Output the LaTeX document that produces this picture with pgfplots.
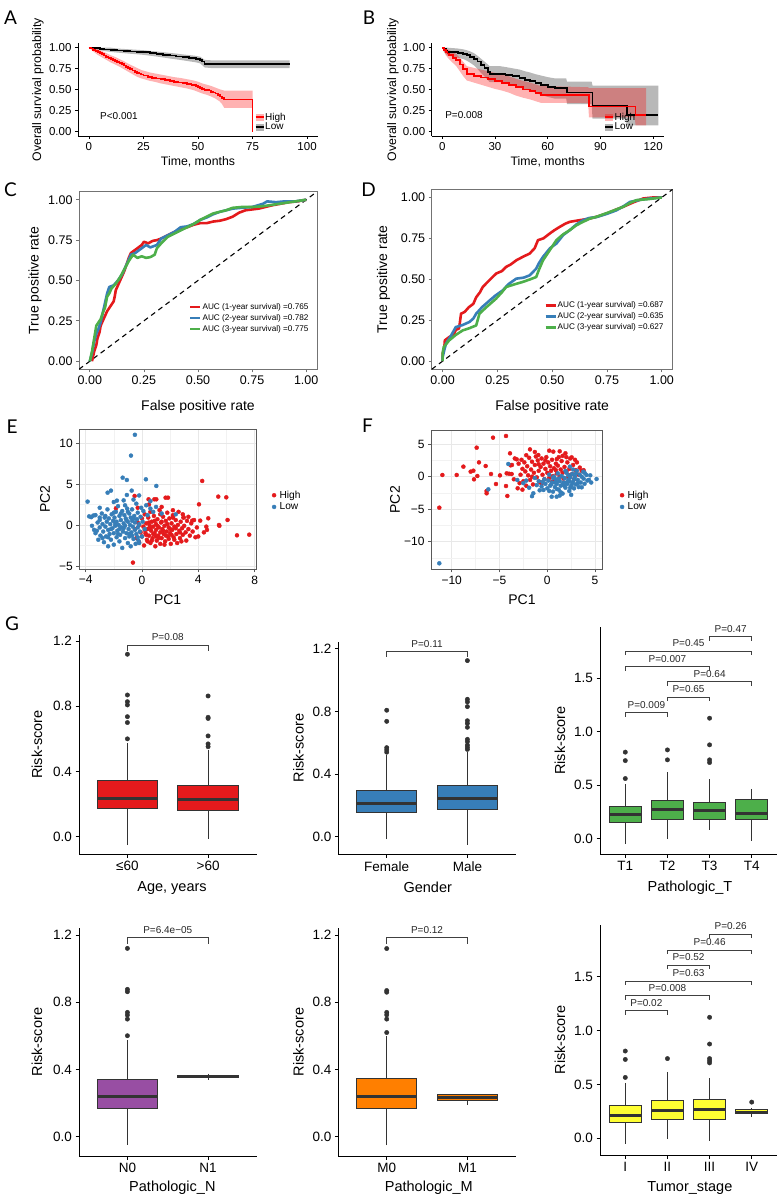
\documentclass[border=0pt]{standalone}
\usepackage{fontspec}
\setmainfont{Liberation Sans}
\newfontfamily\letterfont{Lato}
\usepackage{pgfplots}
\pgfplotsset{compat=1.18}
\usepgfplotslibrary{statistics}
\definecolor{sred}{HTML}{E41A1C}
\definecolor{sblue}{HTML}{377EB8}
\definecolor{sgreen}{HTML}{4DAF4A}
\definecolor{spurple}{HTML}{984EA3}
\definecolor{sorange}{HTML}{FF7F00}
\definecolor{syellow}{HTML}{FFFF33}
\definecolor{bgray}{HTML}{333333}
\newcommand{\fs}[1]{\fontsize{#1}{#1}\selectfont}
\newcommand{\brk}[6]{%
 \draw[black!75, line width=0.6pt] (axis cs:#1,#4) -- (axis cs:#1,#3) -- (axis cs:#2,#3) -- (axis cs:#2,#4);
 \node[font=\fs{10}, black!85, anchor=base, yshift=4.5pt, inner sep=0pt] at (axis cs:#5,#3) {#6};}
\pgfplotsset{
 kmax/.style={scale only axis, axis lines=left, axis line style={-, black, line width=0.8pt},
   tick align=outside, major tick length=3pt, tick style={black, line width=0.8pt},
   tick label style={font=\fs{11.5}}, label style={font=\fs{12.3}},
   ymin=-0.05, ymax=1.05, ytick={0,0.25,0.5,0.75,1}, yticklabels={0.00,0.25,0.50,0.75,1.00},
   height=92.5pt,
   legend style={draw=none, fill=none, font=\fs{10}, row sep=0pt, inner sep=0pt, nodes={inner sep=0.6pt}, anchor=west},
   legend cell align=left},
 rocax/.style={scale only axis, xmin=-0.05, xmax=1.05, ymin=-0.05, ymax=1.05,
   axis line style={black!55, line width=0.8pt}, tick align=outside, major tick length=3pt,
   tick style={black!55, line width=0.8pt}, tick pos=left,
   xtick={0,0.25,0.5,0.75,1}, xticklabels={0.00,0.25,0.50,0.75,1.00},
   ytick={0,0.25,0.5,0.75,1}, yticklabels={0.00,0.25,0.50,0.75,1.00},
   tick label style={font=\fs{12.5}}, label style={font=\fs{14}},
   xlabel={False positive rate}, ylabel={True positive rate},
   legend style={draw=none, fill=none, font=\fs{8.2}, row sep=2pt, inner sep=0pt, nodes={inner sep=0.8pt}, anchor=west},
   legend cell align=left,
   legend image code/.code={\draw[#1] (0pt,0pt) -- (10pt,0pt);}},
 pcax/.style={scale only axis, axis line style={black!65, line width=0.8pt}, tick align=outside,
   major tick length=3pt, minor tick length=0pt, tick style={black!65, line width=0.8pt}, tick pos=left,
   grid=both, major grid style={black!9, line width=0.7pt}, minor grid style={black!5, line width=0.4pt},
   tick label style={font=\fs{12}}, label style={font=\fs{14}}, xlabel={PC1}, ylabel={PC2},
   legend style={draw=none, fill=none, font=\fs{10.2}, row sep=1pt, inner sep=0pt, nodes={inner sep=1pt}, anchor=west},
   legend cell align=left},
 bx/.style={scale only axis, axis lines=left, axis line style={-, black, line width=0.9pt},
   tick align=outside, major tick length=3.5pt, tick style={black, line width=0.9pt},
   tick label style={font=\fs{13.5}}, label style={font=\fs{14.5}}, clip=false,
   xmin=0.4, ylabel={Risk-score},
   boxplot/draw direction=y,
   boxplot/box extend=0.75, boxplot/whisker extend=0,
   boxplot/every median/.style={line width=3pt, draw=bgray}},
 bx2/.style={bx, xmax=2.6, xtick={1,2}, ytick={0,0.4,0.8,1.2}, yticklabels={0.0,0.4,0.8,1.2}, width=177.5pt},
 bx4/.style={bx, xmax=4.6, xtick={1,2,3,4}, ytick={0,0.5,1,1.5}, yticklabels={0.0,0.5,1.0,1.5}, width=177pt},
 bxp/.style={fill=#1, draw=bgray, line width=1pt},
 outl/.style={only marks, mark=*, mark size=2.2pt, color=bgray}
}
\begin{document}
\begin{tikzpicture}[x=1pt,y=1pt]
\useasboundingbox (0,0) rectangle (778,1199);
\node[font=\letterfont\fs{19}] at (10.5,1181.5) {A};
\node[font=\letterfont\fs{19}] at (369,1181.5) {B};
\node[font=\letterfont\fs{19}] at (10.5,1009) {C};
\node[font=\letterfont\fs{19}] at (368.5,1009) {D};
\node[font=\letterfont\fs{19}] at (12,772.3) {E};
\node[font=\letterfont\fs{19}] at (367.5,773) {F};
\node[font=\letterfont\fs{19}] at (12,575.7) {G};

% ---------------- A ----------------
\begin{axis}[kmax, at={(78pt,1063pt)}, anchor=south west, width=240pt,
  xmin=-5, xmax=105, xtick={0,25,50,75,100}, xticklabels={0,25,50,75,100},
  xlabel={Time, months}, ylabel={Overall survival probability},
  xlabel style={at={(axis description cs:0.5,-0.281)}, anchor=center},
  ylabel style={at={(axis description cs:-0.167,0.5)}, anchor=center},
  legend style={at={(axis description cs:0.735,0.15)}}]
\addplot[fill=black, fill opacity=0.28, draw=none, forget plot] coordinates {(0,1)(10,1)(13,0.99)(16,0.985)(19,0.98)(22,0.975)(25,0.97)(28,0.962)(31,0.955)(34,0.947)(37,0.938)(40,0.93)(43,0.92)(46,0.912)(49,0.903)(51,0.893)(52,0.875)(53,0.855)(56,0.85)(92,0.85)(92,0.758)(56,0.758)(53,0.765)(52,0.79)(51,0.813)(49,0.826)(46,0.838)(43,0.85)(40,0.861)(37,0.872)(34,0.884)(31,0.895)(28,0.905)(25,0.915)(22,0.922)(19,0.928)(16,0.935)(13,0.942)(10,0.95)(7,0.96)(5,0.97)(3,0.98)(0,1)};
\addplot[fill=red, fill opacity=0.3, draw=none, forget plot] coordinates {(0,1)(2,0.995)(4,0.98)(6,0.96)(8,0.935)(10,0.91)(12,0.89)(14,0.865)(16,0.84)(18,0.81)(20,0.785)(22,0.76)(24,0.735)(26,0.72)(28,0.705)(30,0.695)(33,0.68)(36,0.665)(39,0.65)(42,0.64)(45,0.625)(48,0.61)(50,0.595)(52,0.575)(54,0.56)(56,0.545)(58,0.525)(60,0.505)(62,0.49)(75,0.49)(75,0.285)(62,0.285)(61,0.33)(60,0.36)(58,0.395)(56,0.42)(54,0.44)(52,0.455)(50,0.475)(48,0.495)(45,0.515)(42,0.53)(39,0.545)(36,0.56)(33,0.575)(30,0.595)(28,0.605)(26,0.62)(24,0.635)(22,0.655)(20,0.685)(18,0.715)(16,0.745)(14,0.775)(12,0.8)(10,0.825)(8,0.855)(6,0.885)(4,0.915)(2,0.955)(0,1)};
\addplot[const plot, black, line width=1.8pt, forget plot] coordinates {(0,1)(3,0.993)(5,0.985)(7,0.978)(10,0.972)(13,0.966)(16,0.96)(19,0.955)(22,0.95)(25,0.944)(28,0.935)(31,0.926)(34,0.916)(37,0.906)(40,0.896)(43,0.886)(46,0.876)(49,0.866)(51,0.855)(52,0.835)(53,0.81)(56,0.805)(92,0.805)};
\addplot[const plot, red, line width=1.8pt, forget plot] coordinates {(0,1)(1,0.99)(2,0.975)(3,0.962)(4,0.948)(5,0.935)(6,0.921)(7,0.907)(8,0.893)(9,0.879)(10,0.865)(11,0.853)(12,0.842)(13,0.83)(14,0.817)(15,0.803)(16,0.788)(17,0.773)(18,0.758)(19,0.743)(20,0.729)(21,0.715)(22,0.703)(23,0.692)(24,0.68)(25,0.67)(27,0.655)(29,0.643)(31,0.633)(33,0.623)(35,0.613)(37,0.603)(39,0.594)(41,0.585)(43,0.577)(45,0.567)(47,0.556)(49,0.543)(50,0.532)(51,0.521)(52,0.51)(53,0.5)(55,0.49)(56,0.477)(57,0.466)(58,0.455)(59,0.44)(60,0.42)(61,0.402)(62,0.385)(75,0)};
\addlegendimage{legend image code/.code={\fill[red, fill opacity=0.3, draw=none] (0pt,-3.5pt) rectangle (8pt,3.5pt); \draw[red, line width=2pt] (0pt,0pt) -- (8pt,0pt);}}
\addlegendentry{High}
\addlegendimage{legend image code/.code={\fill[black, fill opacity=0.3, draw=none] (0pt,-3.5pt) rectangle (8pt,3.5pt); \draw[black, line width=2pt] (0pt,0pt) -- (8pt,0pt);}}
\addlegendentry{Low}
\node[font=\fs{10}, anchor=west, inner sep=0pt] at (axis cs:5.1,0.188) {P<0.001};
\node[font=\fs{12.3}] at (axis description cs:0.5,1.276) {Training dataset};
\end{axis}

% ---------------- B ----------------
\begin{axis}[kmax, at={(431.7pt,1063pt)}, anchor=south west, width=232pt,
  xmin=-6, xmax=126, xtick={0,30,60,90,120}, xticklabels={0,30,60,90,120},
  xlabel={Time, months}, ylabel={Overall survival probability},
  xlabel style={at={(axis description cs:0.5,-0.281)}, anchor=center},
  ylabel style={at={(axis description cs:-0.167,0.5)}, anchor=center},
  legend style={at={(axis description cs:0.742,0.15)}}]
\addplot[fill=black, fill opacity=0.28, draw=none, forget plot] coordinates {(0,1)(3,1)(6,0.995)(9,0.99)(12,0.98)(14,0.97)(16,0.955)(18,0.935)(20,0.905)(22,0.87)(24,0.835)(26,0.8)(27,0.78)(33,0.78)(36,0.77)(40,0.755)(44,0.74)(47,0.72)(50,0.705)(53,0.685)(56,0.67)(60,0.65)(64,0.635)(70.5,0.635)(71,0.595)(85,0.595)(85.5,0.55)(123,0.55)(123,0.075)(105,0.075)(104.5,0.155)(85.5,0.155)(85,0.33)(71,0.33)(70.5,0.395)(64,0.395)(60,0.415)(56,0.44)(53,0.465)(50,0.49)(47,0.505)(44,0.53)(40,0.555)(36,0.575)(33,0.59)(27,0.59)(26,0.615)(24,0.66)(22,0.70)(20,0.75)(18,0.79)(16,0.82)(14,0.845)(12,0.865)(9,0.88)(6,0.895)(3,0.905)(2,0.925)(1,0.95)(0,1)};
\addplot[fill=red, fill opacity=0.3, draw=none, forget plot] coordinates {(0,1)(2,0.99)(4,0.97)(6,0.95)(8,0.925)(10,0.88)(12,0.83)(14,0.78)(18,0.76)(22,0.74)(26,0.72)(30,0.70)(34,0.68)(38,0.66)(42,0.63)(46,0.605)(50,0.585)(53,0.565)(56,0.545)(74,0.535)(83,0.53)(83.5,0.52)(116,0.52)(116,0.075)(110,0.075)(109.5,0.17)(83.5,0.17)(83,0.34)(74,0.345)(56,0.345)(53,0.365)(50,0.385)(46,0.405)(42,0.43)(38,0.465)(34,0.49)(30,0.51)(26,0.535)(22,0.56)(18,0.585)(14,0.61)(12,0.66)(10,0.72)(8,0.78)(6,0.82)(4,0.86)(2,0.91)(0,1)};
\addplot[const plot, black, line width=1.8pt, forget plot] coordinates {(0,1)(1,0.98)(2,0.965)(3,0.952)(6,0.945)(9,0.937)(12,0.927)(14,0.912)(16,0.893)(18,0.87)(20,0.835)(22,0.795)(24,0.755)(26,0.715)(27,0.69)(33,0.69)(36,0.677)(40,0.66)(44,0.64)(47,0.617)(50,0.6)(53,0.577)(56,0.557)(60,0.536)(64,0.516)(70,0.516)(71,0.466)(85,0.466)(85.5,0.305)(104.5,0.305)(105,0.20)(123,0.20)};
\addplot[const plot, red, line width=1.8pt, forget plot] coordinates {(0,1)(1,0.975)(2,0.952)(3,0.93)(4,0.91)(6,0.882)(8,0.852)(10,0.8)(12,0.745)(14,0.69)(18,0.667)(22,0.646)(26,0.625)(30,0.603)(34,0.582)(38,0.56)(42,0.528)(46,0.503)(50,0.482)(53,0.46)(56,0.44)(74,0.44)(75,0.435)(83,0.435)(83.5,0.30)(109.5,0.30)(110,0.20)(116,0.20)};
\addlegendimage{legend image code/.code={\fill[red, fill opacity=0.3, draw=none] (0pt,-3.5pt) rectangle (8pt,3.5pt); \draw[red, line width=2pt] (0pt,0pt) -- (8pt,0pt);}}
\addlegendentry{High}
\addlegendimage{legend image code/.code={\fill[black, fill opacity=0.3, draw=none] (0pt,-3.5pt) rectangle (8pt,3.5pt); \draw[black, line width=2pt] (0pt,0pt) -- (8pt,0pt);}}
\addlegendentry{Low}
\node[font=\fs{10}, anchor=west, inner sep=0pt] at (axis cs:1.6,0.2) {P=0.008};
\node[font=\fs{12.3}] at (axis description cs:0.5,1.276) {Validation dataset};
\end{axis}

% ---------------- C ----------------
\begin{axis}[rocax, at={(79pt,829.7pt)}, anchor=south west, width=238pt, height=177.6pt,
  xlabel style={at={(axis description cs:0.5,-0.212)}, anchor=center},
  ylabel style={at={(axis description cs:-0.185,0.5)}, anchor=center},
  legend style={at={(axis description cs:0.462,0.288)}}]
\addplot[black, dashed, line width=1.1pt, forget plot, dash pattern=on 5pt off 4pt] coordinates {(-0.05,-0.05)(1.05,1.05)};
\addplot[sred, line width=2.6pt, line join=round] coordinates {(0.01,0)(0.015,0.03)(0.02,0.06)(0.03,0.10)(0.035,0.14)(0.045,0.18)(0.05,0.22)(0.06,0.25)(0.07,0.28)(0.08,0.31)(0.09,0.33)(0.1,0.35)(0.11,0.37)(0.115,0.40)(0.12,0.44)(0.13,0.47)(0.14,0.50)(0.15,0.53)(0.16,0.56)(0.17,0.60)(0.18,0.64)(0.19,0.67)(0.2,0.68)(0.22,0.70)(0.24,0.72)(0.25,0.74)(0.27,0.73)(0.29,0.745)(0.31,0.75)(0.33,0.76)(0.36,0.78)(0.39,0.80)(0.42,0.815)(0.45,0.83)(0.48,0.845)(0.51,0.855)(0.54,0.855)(0.57,0.865)(0.60,0.87)(0.63,0.88)(0.66,0.895)(0.69,0.92)(0.72,0.935)(0.75,0.94)(0.78,0.945)(0.81,0.955)(0.84,0.965)(0.88,0.975)(0.92,0.985)(0.96,0.99)(1,1)};
\addlegendentry{AUC (1-year survival) =0.765}
\addplot[sblue, line width=2.6pt, line join=round] coordinates {(0,0)(0.01,0.05)(0.02,0.12)(0.03,0.17)(0.04,0.20)(0.05,0.24)(0.06,0.30)(0.07,0.36)(0.08,0.42)(0.09,0.46)(0.11,0.47)(0.13,0.50)(0.15,0.54)(0.17,0.60)(0.19,0.66)(0.21,0.67)(0.23,0.69)(0.26,0.72)(0.28,0.705)(0.31,0.72)(0.33,0.76)(0.36,0.78)(0.39,0.80)(0.42,0.83)(0.45,0.835)(0.48,0.85)(0.51,0.875)(0.54,0.89)(0.57,0.91)(0.60,0.925)(0.63,0.935)(0.66,0.945)(0.70,0.95)(0.75,0.955)(0.80,0.975)(0.82,0.99)(0.86,0.985)(0.9,0.99)(0.95,0.99)(1,1)};
\addlegendentry{AUC (2-year survival) =0.782}
\addplot[sgreen, line width=2.6pt, line join=round] coordinates {(0,0)(0.01,0.06)(0.02,0.14)(0.03,0.22)(0.04,0.24)(0.05,0.26)(0.06,0.30)(0.07,0.33)(0.08,0.40)(0.09,0.42)(0.10,0.45)(0.12,0.48)(0.14,0.52)(0.16,0.57)(0.18,0.62)(0.20,0.66)(0.22,0.64)(0.24,0.65)(0.26,0.64)(0.28,0.645)(0.30,0.66)(0.31,0.70)(0.33,0.73)(0.36,0.77)(0.39,0.79)(0.42,0.81)(0.45,0.83)(0.48,0.85)(0.51,0.875)(0.54,0.895)(0.57,0.915)(0.60,0.925)(0.63,0.935)(0.66,0.95)(0.70,0.955)(0.75,0.955)(0.80,0.96)(0.85,0.97)(0.9,0.98)(0.95,0.99)(1,1)};
\addlegendentry{AUC (3-year survival) =0.775}
\end{axis}

% ---------------- D ----------------
\begin{axis}[rocax, at={(431.7pt,829.7pt)}, anchor=south west, width=241pt, height=180pt,
  xlabel style={at={(axis description cs:0.5,-0.209)}, anchor=center},
  ylabel style={at={(axis description cs:-0.2,0.5)}, anchor=center},
  legend style={at={(axis description cs:0.466,0.292)}}]
\addplot[black, dashed, line width=1.1pt, forget plot, dash pattern=on 5pt off 4pt] coordinates {(-0.05,-0.05)(1.05,1.05)};
\addplot[sred, line width=2.6pt, line join=round] coordinates {(0,0)(0,0.045)(0.008,0.09)(0.01,0.127)(0.03,0.147)(0.05,0.16)(0.06,0.19)(0.075,0.20)(0.084,0.29)(0.10,0.30)(0.12,0.33)(0.14,0.35)(0.153,0.39)(0.17,0.42)(0.183,0.453)(0.21,0.49)(0.244,0.535)(0.27,0.55)(0.29,0.576)(0.31,0.59)(0.336,0.616)(0.37,0.64)(0.397,0.657)(0.42,0.69)(0.435,0.739)(0.46,0.75)(0.489,0.78)(0.51,0.80)(0.534,0.82)(0.56,0.84)(0.58,0.851)(0.62,0.86)(0.672,0.871)(0.71,0.885)(0.748,0.902)(0.79,0.925)(0.824,0.943)(0.87,0.97)(0.916,0.994)(0.96,1)(1,1)};
\addlegendentry{AUC (1-year survival) =0.687}
\addplot[sblue, line width=2.6pt, line join=round] coordinates {(0,0)(0,0.024)(0.008,0.07)(0.015,0.106)(0.04,0.16)(0.06,0.208)(0.09,0.22)(0.122,0.239)(0.14,0.26)(0.153,0.29)(0.18,0.33)(0.214,0.37)(0.24,0.40)(0.275,0.433)(0.30,0.47)(0.336,0.504)(0.37,0.51)(0.397,0.524)(0.427,0.565)(0.44,0.60)(0.458,0.637)(0.49,0.69)(0.519,0.718)(0.55,0.77)(0.58,0.80)(0.61,0.835)(0.641,0.861)(0.67,0.875)(0.702,0.88)(0.75,0.90)(0.794,0.922)(0.83,0.95)(0.855,0.973)(0.9,0.985)(0.947,0.994)(1,1)};
\addlegendentry{AUC (2-year survival) =0.635}
\addplot[sgreen, line width=2.6pt, line join=round] coordinates {(0,0)(0,0.05)(0.005,0.086)(0.03,0.127)(0.06,0.16)(0.092,0.188)(0.12,0.20)(0.153,0.218)(0.168,0.29)(0.2,0.33)(0.244,0.382)(0.27,0.42)(0.29,0.453)(0.33,0.47)(0.366,0.484)(0.40,0.50)(0.427,0.514)(0.44,0.56)(0.458,0.616)(0.49,0.68)(0.519,0.739)(0.55,0.775)(0.58,0.80)(0.61,0.83)(0.641,0.851)(0.67,0.87)(0.702,0.882)(0.76,0.91)(0.824,0.943)(0.86,0.97)(0.885,0.984)(0.94,0.99)(1,1)};
\addlegendentry{AUC (3-year survival) =0.627}
\end{axis}

% ---------------- E ----------------
\begin{axis}[pcax, at={(79.3pt,629.9pt)}, anchor=south west, width=176.7pt, height=139.8pt,
  xmin=-4.45, xmax=8.1, ymin=-5.38, ymax=11.67,
  xtick={-4,0,4,8}, xticklabels={−4,0,4,8}, minor xtick={-2,2,6},
  ytick={-5,0,5,10}, yticklabels={−5,0,5,10}, minor ytick={-2.5,2.5,7.5},
  xlabel style={at={(axis description cs:0.5,-0.221)}, anchor=center},
  ylabel style={at={(axis description cs:-0.194,0.5)}, anchor=center},
  legend style={at={(axis description cs:1.09,0.487)}}]
\addplot[only marks, mark=*, mark size=2pt, sred, mark options={draw=sred, fill=sred}] coordinates {
(-0.5,-0.5)(-0.4,-1.6)(-0.3,0.3)(-0.2,-2.1)(-0.1,-0.9)(0.0,0.8)(0.0,-1.4)(0.1,-0.2)(0.15,-2.5)(0.2,1.3)(0.25,-1.0)(0.3,0.2)(0.35,-1.8)(0.4,-0.5)(0.45,0.9)(0.5,-1.3)(0.55,-0.1)(0.6,-2.2)(0.6,1.6)(0.65,-0.7)(0.7,0.4)(0.75,-1.6)(0.8,-0.2)(0.85,1.1)(0.9,-1.0)(0.95,-2.6)(1.0,0.1)(1.0,-0.6)(1.05,-1.9)(1.1,0.7)(1.15,-1.3)(1.2,-0.3)(1.25,1.8)(1.3,-0.9)(1.3,-2.3)(1.35,0.3)(1.4,-1.6)(1.45,-0.5)(1.5,1.0)(1.55,-1.1)(1.6,-0.1)(1.65,-2.0)(1.7,0.5)(1.75,-0.8)(1.8,1.5)(1.85,-1.4)(1.9,-0.3)(1.95,0.8)(2.0,-1.0)(2.05,-2.3)(2.1,0.2)(2.15,-0.6)(2.2,1.2)(2.25,-1.5)(2.3,-0.2)(2.4,0.6)(2.45,-1.1)(2.5,-2.2)(2.55,0.0)(2.6,1.6)(2.65,-0.7)(2.7,-1.6)(2.75,0.4)(2.85,-0.4)(2.9,-1.2)(2.95,0.9)(3.0,-0.1)(3.1,-0.9)(3.15,-1.9)(3.2,0.5)(3.3,-0.5)(3.4,-1.3)(3.5,0.2)(3.6,-0.8)(3.7,0.6)(3.8,-1.5)(3.9,-0.3)(0.3,-1.2)(0.6,-0.4)(0.9,0.5)(1.2,-1.6)(1.5,-0.7)(1.8,0.1)(2.1,-1.2)(2.4,-0.4)(2.7,-0.9)(0.4,-2.0)(0.8,-1.1)(1.1,-0.1)(1.4,0.4)(1.7,-1.3)(2.0,-0.5)(2.3,-1.8)(0.2,-0.6)(-0.2,0.0)(0.7,-1.9)(1.6,-2.4)(2.8,-2.0)(1.9,-1.7)(1.3,1.3)(0.5,0.3)(1.0,-1.4)(2.2,0.9)(3.3,1.0)(2.9,1.3)
(4.28,5.37)(4.05,2.52)(5.42,3.46)(5.99,3.37)(5.47,0.0)(5.5,-0.1)(6.08,0.61)(6.75,-1.26)(7.62,-1.18)(4.71,0.81)(4.14,0.53)(4.57,-0.2)(4.62,-0.6)(-0.64,-4.59)(1.68,3.33)(1.85,3.33)(0.88,3.13)(1.02,3.13)(0.47,3.13)(-0.52,3.54)(2.96,0.93)(3.57,0.53)(-1.85,2.03)(-0.3,2.1)(0.5,2.5)(1.4,2.2)(2.2,1.8)(4.4,-0.9)(4.0,-1.4)};
\addlegendentry{\hspace{2.5pt}High}
\addplot[only marks, mark=*, mark size=2pt, sblue, mark options={draw=sblue, fill=sblue}] coordinates {
(-3.75,1.05)(-3.6,0.95)(-3.45,1.15)(-3.3,1.2)(-3.55,-0.1)(-3.4,-0.6)(-3.3,-1.0)(-3.15,0.3)(-3.1,-1.8)(-3.0,0.6)(-3.0,-0.3)(-2.95,-1.3)(-2.85,1.4)(-2.8,0.1)(-2.75,-0.8)(-2.7,-2.1)(-2.65,0.9)(-2.6,-0.2)(-2.55,-1.4)(-2.5,0.4)(-2.45,1.9)(-2.4,-0.6)(-2.4,-2.6)(-2.35,0.8)(-2.3,-1.1)(-2.25,0.1)(-2.2,-1.8)(-2.15,1.3)(-2.1,-0.4)(-2.05,0.5)(-2.0,-2.4)(-2.0,-1.0)(-1.95,0.9)(-1.9,-0.1)(-1.85,1.6)(-1.8,-1.5)(-1.8,0.4)(-1.75,-0.7)(-1.7,2.3)(-1.65,0.0)(-1.6,-2.0)(-1.6,1.1)(-1.55,-1.2)(-1.5,0.6)(-1.45,-0.3)(-1.4,1.7)(-1.4,-2.8)(-1.35,-0.8)(-1.3,0.2)(-1.25,1.2)(-1.2,-1.6)(-1.2,-0.1)(-1.15,0.8)(-1.1,-1.0)(-1.05,2.0)(-1.0,0.4)(-1.0,-2.2)(-0.95,-0.5)(-0.9,1.4)(-0.9,-1.4)(-0.85,0.0)(-0.8,0.9)(-0.8,-2.6)(-0.75,-0.9)(-0.7,0.5)(-0.7,1.9)(-0.65,-0.2)(-0.6,-1.7)(-0.55,1.1)(-0.5,-0.6)(-0.5,0.3)(-0.45,-2.3)(-0.4,2.6)(-0.4,-1.1)(-0.35,0.7)(-0.3,-0.3)(-0.3,1.5)(-0.25,-1.9)(-0.2,0.1)(-0.15,-0.8)(-0.1,1.0)(-0.05,2.1)(0.0,-1.4)(0.05,0.4)(0.1,1.7)(0.2,-0.5)(0.3,2.4)(0.4,1.2)(0.6,2.0)(0.8,1.6)(1.0,2.2)(1.4,1.4)(2.4,1.3)(-2.6,1.1)(-2.2,-0.5)(-1.9,0.2)(-1.7,-1.1)(-1.5,1.4)(-1.3,-0.4)(-1.1,0.6)(-0.9,-1.1)(-0.6,0.8)(-0.3,-1.5)(-2.8,-1.6)(-3.2,-0.7)(-2.0,1.5)(-1.2,2.4)(-0.2,-2.2)(-0.7,-1.3)(-1.6,-0.5)(-2.4,-1.5)(-3.0,0.9)(-1.0,1.6)
(-0.5,11.0)(-0.78,8.46)(-1.37,5.77)(-1.07,5.49)(0.28,5.57)(1.02,4.76)(-2.44,3.94)(-2.2,4.19)(-0.73,4.19)(-3.86,2.85)(-1.78,2.97)(-1.07,3.66)(-0.6,3.1)(-1.3,3.0)(-2.0,2.8)(-0.2,3.6)(0.6,2.9)(-3.0,2.1)};
\addlegendentry{\hspace{2.5pt}Low}
\end{axis}

% ---------------- F ----------------
\begin{axis}[pcax, at={(431pt,629.5pt)}, anchor=south west, width=171.7pt, height=139.5pt,
  xmin=-12.17, xmax=5.8, ymin=-14.28, ymax=7.18,
  xtick={-10,-5,0,5}, xticklabels={−10,−5,0,5}, minor xtick={-7.5,-2.5,2.5},
  ytick={-10,-5,0,5}, yticklabels={−10,−5,0,5}, minor ytick={-12.5,-7.5,-2.5,2.5},
  xlabel style={at={(axis description cs:0.53,-0.219)}, anchor=center},
  ylabel style={at={(axis description cs:-0.21,0.5)}, anchor=center},
  legend style={at={(axis description cs:1.1,0.491)}}]
\addplot[only marks, mark=*, mark size=2pt, sred, mark options={draw=sred, fill=sred}] coordinates {
(-11.3,-4.77)(-10.98,0.26)(-9.48,0.26)(-8.78,1.54)(-8.02,0.77)(-7.74,0.92)(-7.67,-0.41)(-7.32,0.1)(-7.39,4.46)(-7.15,2.2)(-6.45,1.64)(-6.35,-2.2)(-6.35,-2.56)(-5.89,0.41)(-5.68,6.0)(-5.37,-1.13)(-4.95,0.2)(-4.32,6.26)(-4.32,-1.44)(-4.18,-2.97)(-4.25,0.51)(-4.0,0.45)(-3.9,3.59)(-3.83,1.74)(-3.7,1.8)(-3.73,0.41)(-3.2,2.67)(-3.1,-1.79)
(-3.0,2.0)(-2.8,0.3)(-2.7,2.6)(-2.6,1.2)(-2.5,-0.7)(-2.4,2.2)(-2.3,0.8)(-2.2,-1.4)(-2.1,1.6)(-2.0,0.2)(-1.9,2.9)(-1.8,-0.5)(-1.81,4.2)(-1.7,1.1)(-1.6,2.3)(-1.5,-1.2)(-1.4,0.6)(-1.3,1.8)(-1.2,3.1)(-1.1,-0.1)(-1.0,2.5)(-0.94,3.33)(-0.9,0.9)(-0.8,-0.8)(-0.7,1.5)(-0.6,2.8)(-0.5,0.3)(-0.4,2.0)(-0.3,-0.4)(-0.2,1.2)(-0.1,3.0)(0.0,0.6)(0.1,2.2)(0.21,4.0)(0.2,-0.2)(0.3,1.6)(0.4,0.9)(0.5,2.6)(0.6,0.1)(0.63,3.85)(0.7,1.3)(0.8,-0.5)(0.9,2.0)(1.0,0.5)(1.1,1.7)(1.2,3.0)(1.3,0.0)(1.4,1.1)(1.5,2.4)(1.6,0.6)(1.7,-0.3)(1.8,1.5)(1.9,3.6)(2.0,0.8)(2.1,2.2)(2.2,-0.1)(2.3,1.2)(2.4,2.8)(2.55,2.97)(2.6,0.4)(2.7,1.8)(2.8,-0.4)(3.0,1.0)(3.1,2.2)(3.3,0.3)(3.4,1.4)(3.6,0.9)(3.8,1.0)(-2.9,-1.0)(-1.6,0.0)(-0.9,1.9)(-0.2,2.5)(0.5,-0.8)(1.0,2.7)(1.6,3.2)(2.3,0.2)(-1.3,3.8)(-2.2,3.3)(0.9,1.0)(-0.6,-1.1)(-2.6,-2.0)(1.3,3.9)(2.0,3.0)(2.9,2.6)(-3.5,-0.4)(-3.4,2.8)};
\addlegendentry{\hspace{2.5pt}High}
\addplot[only marks, mark=*, mark size=2pt, sblue, mark options={draw=sblue, fill=sblue}] coordinates {
(-3.14,-0.51)(-2.5,-1.0)(-2.2,-0.6)(-1.9,-1.7)(-1.6,-3.0)(-1.46,-2.56)(-1.3,-0.2)(-1.1,-1.3)(-0.9,-0.7)(-0.8,-2.1)(-0.6,-1.5)(-0.4,-2.05)(-0.3,-0.4)(-0.2,-1.1)(0.0,-1.8)(0.1,-0.6)(0.2,0.3)(0.3,-1.4)(0.46,-3.08)(0.5,-0.9)(0.6,-2.3)(0.7,0.0)(0.8,-1.6)(0.9,-0.4)(0.98,-3.08)(1.0,-1.1)(1.1,0.5)(1.2,-2.0)(1.3,-0.7)(1.4,-1.4)(1.5,0.1)(1.6,-2.6)(1.7,-0.9)(1.8,-0.2)(1.9,-1.7)(2.0,0.6)(2.1,-1.1)(2.2,-0.5)(2.3,-2.2)(2.37,1.54)(2.4,-0.1)(2.5,-1.4)(2.6,0.4)(2.7,-0.8)(2.8,-1.8)(2.9,0.0)(3.0,-1.2)(3.1,0.9)(3.2,-0.5)(3.3,-1.6)(3.4,0.3)(3.5,-0.9)(3.6,-1.64)(3.77,0.77)(3.8,-0.3)(3.9,-1.1)(4.1,0.26)(4.2,-0.6)(4.36,-0.5)(5.16,-0.36)(0.4,-1.2)(0.8,-0.9)(1.2,-0.3)(1.6,-1.2)(2.0,-0.9)(2.4,-1.7)(2.8,-0.4)(3.2,-1.0)(1.0,-1.9)(1.8,-1.4)(2.6,-1.1)(0.2,-2.2)(1.4,-2.4)(2.2,0.2)(3.0,0.5)(0.6,-0.2)(-0.5,-0.8)(1.9,0.9)(2.7,1.1)(3.6,0.0)(4.5,0.2)(1.1,-0.6)(2.3,-0.7)(-4.08,1.95)(-6.17,-1.95)(-11.3,-13.33)(2.5,-2.8)(1.3,-2.9)(3.9,0.6)(4.6,-0.9)};
\addlegendentry{\hspace{2.5pt}Low}
\end{axis}

% ---------------- G1 ----------------
\begin{axis}[bx2, at={(79pt,344.7pt)}, anchor=south west, height=219.3pt, ymin=-0.108, ymax=1.237,
  xticklabels={≤60,>60}, xlabel={Age, years},
  xlabel style={at={(axis description cs:0.524,-0.152)}, anchor=center},
  ylabel style={at={(axis description cs:-0.237,0.5)}, anchor=center}]
\addplot[bxp=sred, boxplot prepared={draw position=1, lower whisker=-0.051, lower quartile=0.17, median=0.235, upper quartile=0.342, upper whisker=0.573}] coordinates {};
\addplot[bxp=sred, boxplot prepared={draw position=2, lower whisker=-0.014, lower quartile=0.158, median=0.225, upper quartile=0.311, upper whisker=0.532}] coordinates {};
\addplot[outl] coordinates {(1,1.119)(1,0.869)(1,0.828)(1,0.808)(1,0.736)(1,0.70)(1,0.60)(2,0.863)(2,0.732)(2,0.725)(2,0.618)(2,0.569)(2,0.552)};
\brk{1}{2}{1.176}{1.141}{1.5}{P=0.08}
\end{axis}

% ---------------- G2 ----------------
\begin{axis}[bx2, at={(338.3pt,344.7pt)}, anchor=south west, height=212.3pt, ymin=-0.1125, ymax=1.244,
  xticklabels={Female,Male}, xlabel={Gender},
  xlabel style={at={(axis description cs:0.504,-0.157)}, anchor=center},
  ylabel style={at={(axis description cs:-0.224,0.5)}, anchor=center}]
\addplot[bxp=sblue, boxplot prepared={draw position=1, lower whisker=-0.017, lower quartile=0.153, median=0.213, upper quartile=0.298, upper whisker=0.52}] coordinates {};
\addplot[bxp=sblue, boxplot prepared={draw position=2, lower whisker=-0.053, lower quartile=0.171, median=0.245, upper quartile=0.324, upper whisker=0.54}] coordinates {};
\addplot[outl] coordinates {(1,0.808)(1,0.737)(1,0.569)(1,0.555)(1,0.54)(2,1.125)(2,0.878)(2,0.861)(2,0.831)(2,0.741)(2,0.724)(2,0.699)(2,0.622)(2,0.607)(2,0.585)(2,0.571)(2,0.558)};
\brk{1}{2}{1.182}{1.15}{1.5}{P=0.11}
\end{axis}

% ---------------- G3 ----------------
\begin{axis}[bx4, at={(600pt,344.7pt)}, anchor=south west, height=227.6pt, ymin=-0.1446, ymax=1.98,
  xticklabels={T1,T2,T3,T4}, xlabel={Pathologic\_T},
  xlabel style={at={(axis description cs:0.508,-0.147)}, anchor=center},
  ylabel style={at={(axis description cs:-0.226,0.5)}, anchor=center}]
\addplot[bxp=sgreen, boxplot prepared={draw position=1, lower whisker=-0.05, lower quartile=0.152, median=0.224, upper quartile=0.301, upper whisker=0.51}] coordinates {};
\addplot[bxp=sgreen, boxplot prepared={draw position=2, lower whisker=-0.003, lower quartile=0.177, median=0.27, upper quartile=0.354, upper whisker=0.622}] coordinates {};
\addplot[bxp=sgreen, boxplot prepared={draw position=3, lower whisker=0.084, lower quartile=0.177, median=0.264, upper quartile=0.339, upper whisker=0.557}] coordinates {};
\addplot[bxp=sgreen, boxplot prepared={draw position=4, lower whisker=-0.016, lower quartile=0.184, median=0.24, upper quartile=0.364, upper whisker=0.466}] coordinates {};
\addplot[outl] coordinates {(1,0.809)(1,0.73)(1,0.5625)(2,0.83)(2,0.737)(3,1.126)(3,0.877)(3,0.737)(3,0.712)};
\brk{1}{2}{1.178}{1.141}{1.5}{P=0.009}
\brk{2}{3}{1.325}{1.288}{2.5}{P=0.65}
\brk{2}{4}{1.467}{1.43}{3}{P=0.64}
\brk{1}{3}{1.607}{1.57}{2}{P=0.007}
\brk{1}{4}{1.751}{1.714}{2.5}{P=0.45}
\brk{3}{4}{1.887}{1.85}{3.5}{P=0.47}
\end{axis}

% ---------------- G4 ----------------
\begin{axis}[bx2, at={(79pt,43pt)}, anchor=south west, height=227.7pt, ymin=-0.115, ymax=1.2405,
  xticklabels={N0,N1}, xlabel={Pathologic\_N},
  xlabel style={at={(axis description cs:0.526,-0.139)}, anchor=center},
  ylabel style={at={(axis description cs:-0.237,0.5)}, anchor=center}]
\addplot[bxp=spurple, boxplot prepared={draw position=1, lower whisker=-0.049, lower quartile=0.169, median=0.242, upper quartile=0.34, upper whisker=0.575}] coordinates {};
\addplot[bxp=spurple, boxplot prepared={draw position=2, lower whisker=0.34, lower quartile=0.352, median=0.36, upper quartile=0.366, upper whisker=0.375}] coordinates {};
\addplot[outl] coordinates {(1,1.121)(1,0.877)(1,0.863)(1,0.74)(1,0.724)(1,0.70)(1,0.601)};
\brk{1}{2}{1.185}{1.147}{1.5}{P=6.4e−05}
\end{axis}

% ---------------- G5 ----------------
\begin{axis}[bx2, at={(338.3pt,43pt)}, anchor=south west, height=227.7pt, ymin=-0.115, ymax=1.2405,
  xticklabels={M0,M1}, xlabel={Pathologic\_M},
  xlabel style={at={(axis description cs:0.51,-0.139)}, anchor=center},
  ylabel style={at={(axis description cs:-0.224,0.5)}, anchor=center}]
\addplot[bxp=sorange, boxplot prepared={draw position=1, lower whisker=-0.052, lower quartile=0.167, median=0.24, upper quartile=0.345, upper whisker=0.60}] coordinates {};
\addplot[bxp=sorange, boxplot prepared={draw position=2, lower whisker=0.19, lower quartile=0.215, median=0.234, upper quartile=0.25, upper whisker=0.255}] coordinates {};
\addplot[outl] coordinates {(1,1.12)(1,0.87)(1,0.86)(1,0.74)(1,0.725)(1,0.70)(1,0.62)};
\brk{1}{2}{1.185}{1.147}{1.5}{P=0.12}
\end{axis}

% ---------------- G6 ----------------
\begin{axis}[bx4, at={(600pt,44pt)}, anchor=south west, height=230pt, ymin=-0.155, ymax=1.98,
  xticklabels={I,II,III,IV}, xlabel={Tumor\_stage},
  xlabel style={at={(axis description cs:0.508,-0.142)}, anchor=center},
  ylabel style={at={(axis description cs:-0.226,0.5)}, anchor=center}]
\addplot[bxp=syellow, boxplot prepared={draw position=1, lower whisker=-0.053, lower quartile=0.148, median=0.216, upper quartile=0.30, upper whisker=0.516}] coordinates {};
\addplot[bxp=syellow, boxplot prepared={draw position=2, lower whisker=-0.01, lower quartile=0.17, median=0.256, upper quartile=0.349, upper whisker=0.618}] coordinates {};
\addplot[bxp=syellow, boxplot prepared={draw position=3, lower whisker=-0.022, lower quartile=0.176, median=0.269, upper quartile=0.362, upper whisker=0.557}] coordinates {};
\addplot[bxp=syellow, boxplot prepared={draw position=4, lower whisker=0.195, lower quartile=0.226, median=0.241, upper quartile=0.269, upper whisker=0.28}] coordinates {};
\addplot[outl] coordinates {(1,0.81)(1,0.732)(1,0.565)(2,0.74)(3,1.123)(3,0.875)(3,0.74)(3,0.72)(3,0.70)(4,0.336)};
\brk{1}{2}{1.184}{1.147}{1.5}{P=0.02}
\brk{1}{3}{1.323}{1.286}{2}{P=0.008}
\brk{1}{4}{1.462}{1.425}{2.5}{P=0.63}
\brk{2}{3}{1.608}{1.571}{2.5}{P=0.52}
\brk{2}{4}{1.747}{1.71}{3}{P=0.46}
\brk{3}{4}{1.892}{1.855}{3.5}{P=0.26}
\end{axis}
\end{tikzpicture}
\end{document}
